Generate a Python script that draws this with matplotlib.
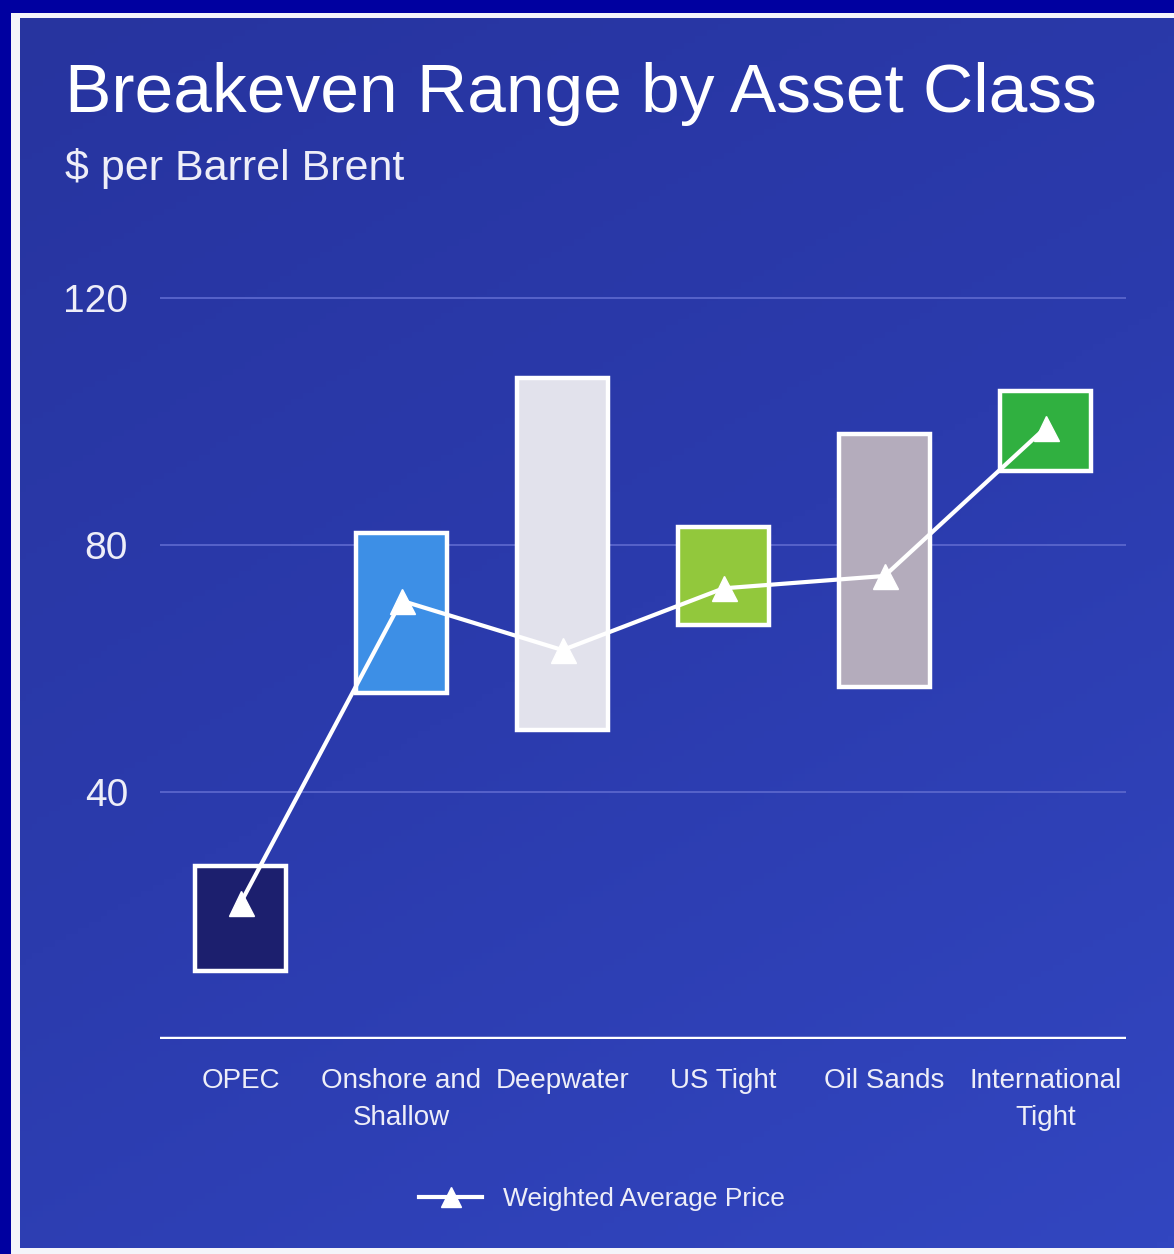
import numpy as np
import matplotlib
matplotlib.use("Agg")
import matplotlib.pyplot as plt
from matplotlib.colors import LinearSegmentedColormap
from matplotlib.lines import Line2D
from matplotlib.patches import Rectangle

# breakeven ranges, $/bbl Brent
categories = ["OPEC", "Onshore and\nShallow", "Deepwater", "US Tight",
              "Oil Sands", "International\nTight"]
low = [11, 56, 50, 67, 57, 92]
high = [28, 82, 107, 83, 98, 105]
weighted_avg = [22, 71, 63, 73, 75, 99]
yticks = [40, 80, 120]

bar_colors = ["#1c1f6e", "#3d8fe6", "#e2e2ec", "#92c83c", "#b4acbc", "#30b040"]

plt.rcParams["font.family"] = ["Liberation Sans", "DejaVu Sans"]

W, H = 1174, 1254
fig = plt.figure(figsize=(W / 100, H / 100), dpi=100)
fig.patch.set_facecolor("#0000a0")

# white frame + blue panel behind everything
fig.patches.append(Rectangle((11 / W, 0), 1, 1 - 13 / H, transform=fig.transFigure,
                             facecolor="#f4f4fa", edgecolor="none", zorder=-3))
bg = fig.add_axes([20 / W, 6 / H, 1 - 20 / W, 1 - 24 / H], zorder=-2)
grad = LinearSegmentedColormap.from_list("panel", ["#27349f", "#2b3bad", "#3246c0"])
gx, gy = np.meshgrid(np.linspace(0, 1, 200), np.linspace(0, 1, 200))
bg.imshow(0.35 * gx + 0.65 * gy, cmap=grad, aspect="auto", extent=(0, 1, 1, 0))
bg.set_axis_off()

ax = fig.add_axes([160 / W, 1 - 1039 / H, 966 / W, 747 / H])
ax.patch.set_alpha(0)
x = np.arange(len(categories))

for y in yticks:
    ax.axhline(y, color="#5a66cc", lw=1.3, zorder=1)
ax.axhline(0, color="white", lw=3.2, zorder=2)

ax.bar(x, np.array(high) - np.array(low), bottom=low, width=0.56,
       color=bar_colors, edgecolor="white", linewidth=3.2, zorder=3)
ax.plot(x, weighted_avg, color="white", lw=3, marker="^", markersize=18,
        markeredgecolor="white", zorder=4)

ax.set_xlim(-0.5, 5.5)
ax.set_ylim(0, 121)
ax.set_yticks(yticks)
ax.set_xticks(x)
ax.set_xticklabels(categories, fontsize=20, color="#eeeef8", linespacing=1.55)
ax.set_yticklabels([str(v) for v in yticks], fontsize=28, color="#eeeef8")
ax.tick_params(axis="x", length=0, pad=21)
ax.tick_params(axis="y", length=0, pad=23)
for s in ax.spines.values():
    s.set_visible(False)

fig.text(65 / W, 1 - 112 / H, "Breakeven Range by Asset Class", fontsize=50,
         color="white", va="baseline")
fig.text(65 / W, 1 - 180 / H, "$ per Barrel Brent", fontsize=31,
         color="#eeeef8", va="baseline")

handle = Line2D([], [], color="white", lw=3, marker="^", markersize=14)
fig.legend([handle], ["Weighted Average Price"], loc="center",
           bbox_to_anchor=(602 / W, 1 - 1199 / H), frameon=False,
           fontsize=19, labelcolor="#eeeef8", handlelength=2.4)

fig.savefig("out.png", dpi=100, facecolor=fig.get_facecolor())
